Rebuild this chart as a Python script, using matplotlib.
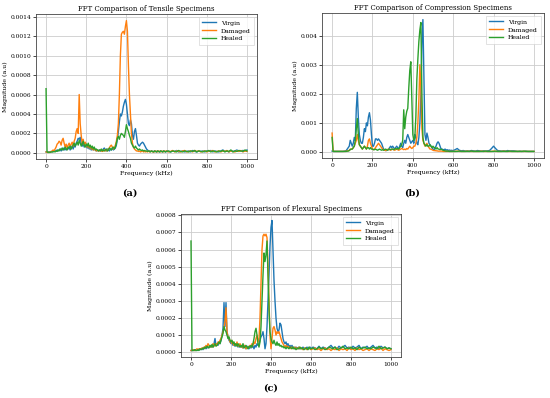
import numpy as np
import matplotlib
matplotlib.use('Agg')
import matplotlib.pyplot as plt
from matplotlib.ticker import FormatStrFormatter, MultipleLocator

plt.rcParams['font.family'] = ['DejaVu Serif']

# ===== 频率轴 (kHz): 0-595 每 5 kHz, 600-1000 每 10 kHz =====
freq = np.concatenate([np.arange(0, 600, 5), np.arange(600, 1001, 10)])

# ===== (a) Tensile, 单位 1e-5 =====
tens_virgin = [
    1, 1, 1, 1, 1, 1.5, 1, 2, 1.5, 2,
    2, 3, 2, 3, 4, 2, 3, 5, 3, 4,
    3, 5, 4, 6, 3, 5, 7, 4, 8, 6,
    10, 12, 15, 14, 16, 10, 7, 9, 6, 8,
    7, 5, 6, 4, 5, 3, 4, 3, 5, 3,
    2, 3, 2, 3, 2, 3, 2, 4, 5, 3,
    2, 4, 3, 2, 4, 3, 5, 3, 4, 5,
    8, 14, 22, 32, 40, 38, 42, 48, 52, 55,
    50, 40, 30, 28, 34, 30, 18, 14, 22, 25,
    18, 10, 8, 7, 9, 10, 11, 10, 8, 6,
    4, 3, 2, 2, 1.5, 2, 1.5, 1, 2, 1.5,
    1, 2, 1.5, 1, 2, 1.5, 1, 2, 1.5, 1,
    2, 1.5, 1, 2, 1.5, 2.5, 1, 1.5, 2, 1,
    1.5, 2, 1, 2.5, 1.5, 1, 2, 1.5, 2, 1,
    2, 1.5, 2.5, 1, 2, 1.5, 1, 2, 3, 1.5,
    2, 1, 2.5, 1.5, 2, 3, 1.5, 2, 2.5, 2,
    3]
tens_damaged = [
    1, 0.5, 0.5, 0.5, 1, 1, 2, 3, 2, 4,
    6, 9, 10, 12, 11, 8, 13, 15, 10, 6,
    9, 5, 8, 10, 6, 9, 11, 7, 12, 15,
    22, 25, 20, 60, 30, 18, 10, 14, 8, 11,
    9, 6, 8, 5, 6, 4, 5, 3, 4, 3,
    2, 3, 2, 2, 3, 2, 1.5, 2, 3, 2,
    3, 2, 4, 5, 7, 8, 6, 4, 5, 8,
    12, 18, 30, 60, 100, 122, 124, 125, 122, 130,
    136, 125, 90, 60, 40, 20, 10, 6, 4, 3,
    2, 2, 1.5, 2, 1, 1.5, 2, 1, 1.5, 1,
    1.5, 1, 2, 1, 1.5, 2, 1, 1.5, 1, 2,
    1.5, 1, 2, 1.5, 1, 2, 1.5, 1, 2, 1.5,
    2, 1, 1.5, 2.5, 1, 2, 1.5, 1, 2, 2.5,
    1, 1.5, 2, 1, 2.5, 1.5, 2, 1, 1.5, 2,
    1, 2, 1.5, 2.5, 1, 1.5, 2, 1, 2, 1.5,
    2.5, 1, 2, 1.5, 1, 2, 1.5, 2.5, 1, 2,
    1.5]
tens_healed = [
    66, 1, 0.5, 0.5, 0.5, 1, 1, 1, 1.5, 1,
    2, 1.5, 3, 2, 4, 3, 5, 3, 4, 6,
    4, 3, 6, 5, 7, 4, 6, 8, 10, 7,
    9, 11, 8, 13, 10, 7, 9, 12, 8, 6,
    9, 7, 10, 6, 8, 5, 7, 4, 6, 3,
    4, 3, 2, 3, 2, 4, 2, 3, 2, 3,
    4, 2, 3, 5, 4, 3, 5, 6, 4, 6,
    10, 15, 17, 14, 18, 20, 19, 18, 16, 22,
    29, 25, 22, 18, 15, 10, 8, 6, 5, 7,
    5, 4, 3, 4, 3, 2.5, 3, 2, 2.5, 2,
    2, 1.5, 2, 1.5, 1, 2, 1.5, 1, 2, 1.5,
    1, 2, 1.5, 1, 2, 1.5, 1, 2, 1.5, 1,
    1.5, 2, 1, 2, 1.5, 1, 2.5, 1.5, 1, 2,
    1.5, 1, 2, 1.5, 2.5, 1, 2, 1.5, 1, 2,
    1.5, 2.5, 1, 2, 1.5, 1, 2, 1.5, 2.5, 1,
    2, 1.5, 3, 1, 2, 1.5, 2.5, 2, 1.5, 3,
    2]

# ===== (b) Compression, 单位 1e-4 =====
comp_virgin = [
    0.3, 0.2, 0.2, 0.2, 0.2, 0.2, 0.2, 0.2, 0.2, 0.2,
    0.2, 0.2, 0.3, 0.3, 0.5, 1, 1.5, 2, 4, 3,
    2, 3, 5, 4, 15, 20.5, 12, 6, 4, 3,
    3, 5, 8, 7, 10, 9, 12, 13.5, 11, 6,
    2, 2, 3, 4.5, 4.5, 4, 4.5, 4, 3.5, 3,
    2, 1, 0.8, 0.5, 0.5, 0.8, 1, 1.5, 2, 1.5,
    2, 1.5, 1, 1.5, 2, 1.5, 1, 2, 3, 2,
    1.5, 3, 4, 3, 5, 6, 5, 4, 3, 3.5,
    4, 3, 6, 5, 3, 2.5, 5, 10, 20, 38,
    45.5, 25, 6, 4, 6.5, 5, 3, 2.5, 2, 1.5,
    1, 0.5, 1.5, 2, 3, 3.5, 3, 2, 1, 1,
    0.8, 0.8, 1, 0.6, 0.8, 0.5, 0.7, 0.5, 0.6, 0.5,
    0.5, 0.8, 1.2, 0.6, 0.4, 0.5, 0.3, 0.4, 0.3, 0.5,
    0.4, 0.3, 0.5, 0.4, 0.3, 0.4, 0.3, 0.4, 0.5, 1.2,
    2, 1.2, 0.5, 0.4, 0.3, 0.4, 0.3, 0.5, 0.3, 0.4,
    0.4, 0.3, 0.2, 0.3, 0.2, 0.2, 0.3, 0.2, 0.2, 0.2,
    0.2]
comp_damaged = [
    6.5, 0.3, 0.2, 0.2, 0.2, 0.2, 0.2, 0.2, 0.2, 0.2,
    0.2, 0.2, 0.2, 0.2, 0.3, 0.3, 0.5, 0.5, 1, 1,
    1, 1.5, 2, 3, 4, 6, 4, 2.5, 2, 1.5,
    1, 1.5, 2, 1.5, 1, 2, 4, 4.5, 3, 2,
    1, 0.8, 1, 1.5, 2, 2.5, 3, 2.5, 2, 1.5,
    1, 0.8, 0.6, 0.5, 0.6, 0.8, 1, 0.8, 0.6, 0.8,
    1, 0.8, 0.6, 0.8, 1, 0.8, 0.6, 0.8, 1, 1.2,
    1, 0.8, 1, 0.8, 1.2, 1, 1.5, 2, 1.5, 1.2,
    1.5, 2, 2, 3, 5, 10, 18, 30, 22, 8,
    4, 3, 2, 2.5, 3, 2, 1.5, 1, 1, 0.8,
    0.6, 0.5, 0.5, 0.4, 0.4, 0.3, 0.3, 0.3, 0.3, 0.3,
    0.2, 0.2, 0.2, 0.2, 0.2, 0.2, 0.2, 0.2, 0.2, 0.2,
    0.2, 0.2, 0.3, 0.2, 0.2, 0.2, 0.2, 0.3, 0.2, 0.2,
    0.2, 0.2, 0.2, 0.2, 0.3, 0.2, 0.2, 0.2, 0.2, 0.2,
    0.3, 0.2, 0.2, 0.2, 0.2, 0.3, 0.2, 0.2, 0.2, 0.2,
    0.2, 0.2, 0.2, 0.2, 0.2, 0.2, 0.2, 0.2, 0.2, 0.2,
    0.2]
comp_healed = [
    5, 0.2, 0.2, 0.2, 0.2, 0.2, 0.2, 0.2, 0.2, 0.2,
    0.2, 0.2, 0.2, 0.2, 0.2, 0.3, 0.3, 0.5, 0.8, 1,
    1, 1.5, 2, 4, 8, 11.5, 6, 2.5, 2, 1.5,
    1, 1.5, 2, 1.5, 1, 1.5, 1.5, 1, 1.5, 1,
    1, 0.8, 0.8, 1, 0.8, 0.6, 0.8, 1, 0.8, 0.6,
    0.8, 0.6, 0.8, 1, 0.8, 0.6, 0.8, 1, 0.8, 1,
    1, 0.8, 1, 1.2, 1, 1.2, 1, 1.5, 2, 2.5,
    4, 14.5, 8, 12, 14, 15, 22, 28, 31, 18,
    6, 4, 5, 12, 25, 32, 38, 42, 44.5, 20,
    5, 3, 2.5, 2, 2.5, 2, 2, 2.5, 2, 1.5,
    2, 1.5, 1.5, 1, 1.5, 1, 1, 0.8, 1, 0.8,
    0.6, 0.5, 0.4, 0.3, 0.3, 0.3, 0.2, 0.2, 0.2, 0.2,
    0.2, 0.2, 0.2, 0.3, 0.2, 0.2, 0.2, 0.2, 0.2, 0.3,
    0.2, 0.2, 0.2, 0.2, 0.2, 0.2, 0.3, 0.2, 0.2, 0.2,
    0.2, 0.3, 0.2, 0.2, 0.2, 0.2, 0.2, 0.2, 0.3, 0.2,
    0.2, 0.2, 0.2, 0.2, 0.2, 0.3, 0.2, 0.2, 0.2, 0.2,
    0.2]

# ===== (c) Flexural, 单位 1e-5 =====
flex_virgin = [
    1, 1, 1, 1.5, 1, 1, 1.5, 1, 1.5, 2,
    1.5, 2, 1.5, 2.5, 3, 2, 3, 2.5, 3, 3.5,
    3, 4, 3, 5, 8, 4, 5, 4, 6, 5,
    7, 10, 14, 29, 15, 29, 12, 9, 7, 6,
    5, 6, 4, 5, 3.5, 4, 5, 3, 4, 3,
    4, 3, 2.5, 4, 3, 2, 3.5, 3, 2, 3,
    2.5, 3, 3.5, 2, 4, 3, 5, 4, 5, 7,
    9, 10, 12, 8, 2, 5, 15, 30, 45, 62,
    73, 77, 60, 42, 30, 20, 14, 12, 13, 17,
    16, 12, 8, 6, 5, 6, 4, 5, 3, 4,
    3, 4, 2.5, 3, 2, 3, 2.5, 2, 3, 2,
    2.5, 2, 3, 2, 2.5, 2, 3, 2, 2.5, 3,
    2, 3, 2.5, 2, 3.5, 2, 3, 2.5, 2, 3,
    4, 2.5, 3, 2, 3.5, 2.5, 3, 4, 2.5, 3,
    2, 3.5, 2.5, 3, 4, 2, 3, 2.5, 3.5, 2,
    3, 4, 2.5, 3, 2, 3.5, 2.5, 3, 2, 2.5,
    2]
flex_damaged = [
    1, 1, 1.5, 1, 1, 1.5, 2, 1.5, 2, 2,
    2, 2.5, 2, 3, 2.5, 4, 3, 5, 4, 3,
    4, 3, 5, 3.5, 4, 5, 4, 6, 5, 7,
    8, 10, 12, 14, 18, 26, 12, 9, 8, 6,
    7, 5, 6, 4, 5, 4, 6, 3.5, 4, 5,
    3, 4, 2.5, 3, 4, 2, 3, 2.5, 3, 4,
    3, 5, 4, 6, 5, 8, 10, 6, 8, 20,
    40, 60, 68, 69, 68, 69, 67, 50, 30, 10,
    2, 8, 14, 15, 13, 10, 12, 11, 12, 10,
    8, 6, 5, 4, 3, 4, 3, 3.5, 2.5, 3,
    2, 3, 2.5, 2, 3, 2, 2.5, 2, 3, 2,
    2.5, 2, 1.5, 2, 2.5, 2, 1.5, 2, 2.5, 2,
    1.5, 2, 2.5, 1.5, 2, 1, 2, 2.5, 1.5, 2,
    1, 2, 1.5, 2.5, 1, 2, 1.5, 2, 1, 2.5,
    1.5, 2, 1, 2.5, 1.5, 2, 1, 1.5, 2, 1,
    2, 1.5, 1, 2, 1.5, 2.5, 1, 2, 1.5, 1,
    1.5]
flex_healed = [
    65, 1, 1, 1, 1.5, 1, 1, 1.5, 1, 2,
    1.5, 2, 2.5, 2, 3, 2.5, 3.5, 3, 2.5, 4,
    3, 4.5, 3, 4, 5, 3.5, 4, 5, 6, 5,
    7, 9, 11, 15, 13, 12, 10, 8, 9, 7,
    6, 7, 5, 6, 4, 5, 3.5, 5, 4, 3,
    4, 3, 5, 2.5, 3, 4, 3, 2, 3.5, 3,
    4, 3, 5, 8, 12, 14, 10, 5, 3, 6,
    15, 30, 45, 58, 53, 57, 65, 45, 25, 12,
    8, 6, 5, 7, 5, 4, 6, 4, 5, 3.5,
    4, 3, 3.5, 2.5, 3, 2, 3, 2.5, 2, 3,
    2.5, 2, 3, 2, 2.5, 1.5, 2, 2.5, 2, 3,
    2, 2.5, 2, 1.5, 2, 2.5, 2, 1.5, 3, 2,
    2, 2.5, 1.5, 2, 3, 2, 2.5, 1.5, 2, 3,
    2.5, 2, 3, 1.5, 2, 2.5, 3.5, 2, 2.5, 2,
    3, 2, 2.5, 1.5, 3, 2, 2.5, 3, 2, 2.5,
    2, 3, 2.5, 2, 3.5, 2, 2.5, 3, 2, 2.5,
    2]

panels = [
    ('FFT Comparison of Tensile Specimens', 1e-5,
     (tens_virgin, tens_damaged, tens_healed), 0.0002, '%.4f', '(a)',
     [36, 14, 257, 159], (130, 193)),
    ('FFT Comparison of Compression Specimens', 1e-4,
     (comp_virgin, comp_damaged, comp_healed), 0.001, '%.3f', '(b)',
     [322, 13, 544, 158], (412, 193)),
    ('FFT Comparison of Flexural Specimens', 1e-5,
     (flex_virgin, flex_damaged, flex_healed), 0.0001, '%.4f', '(c)',
     [181, 214, 401, 357], (271, 388)),
]

W, H = 550, 398
fig = plt.figure(figsize=(W / 100, H / 100), dpi=100)
labels = ['Virgin', 'Damaged', 'Healed']
colors = ['#1f77b4', '#ff7f0e', '#2ca02c']

for title, unit, series, step, fmt, tag, box, tagpos in panels:
    l, t, r, b = box
    ax = fig.add_axes([l / W, 1 - b / H, (r - l) / W, (b - t) / H])
    for vals, lab, col in zip(series, labels, colors):
        ax.plot(freq, np.array(vals) * unit, color=col, lw=1.0, label=lab)
    ax.set_title(title, fontsize=5, pad=2.5)
    ax.set_xlabel('Frequency (kHz)', fontsize=4.5, labelpad=1.5)
    ax.set_ylabel('Magnitude (a.u)', fontsize=4.5, labelpad=1.5)
    ax.yaxis.set_major_locator(MultipleLocator(step))
    ax.yaxis.set_major_formatter(FormatStrFormatter(fmt))
    ax.xaxis.set_major_locator(MultipleLocator(200))
    ax.tick_params(labelsize=4.2, length=2, width=0.5, pad=1.5)
    ax.grid(True, color='#cccccc', lw=0.6)
    for sp in ax.spines.values():
        sp.set_linewidth(0.6)
        sp.set_color('#444444')
    leg = ax.legend(loc='upper right', fontsize=4.5, handlelength=2.2,
                    borderpad=0.5, labelspacing=0.4, fancybox=False)
    leg.get_frame().set_linewidth(0.5)
    fig.text(tagpos[0] / W, 1 - tagpos[1] / H, tag, ha='center', va='center',
             fontsize=7, fontweight='bold')

fig.savefig('out.png', dpi=100)
